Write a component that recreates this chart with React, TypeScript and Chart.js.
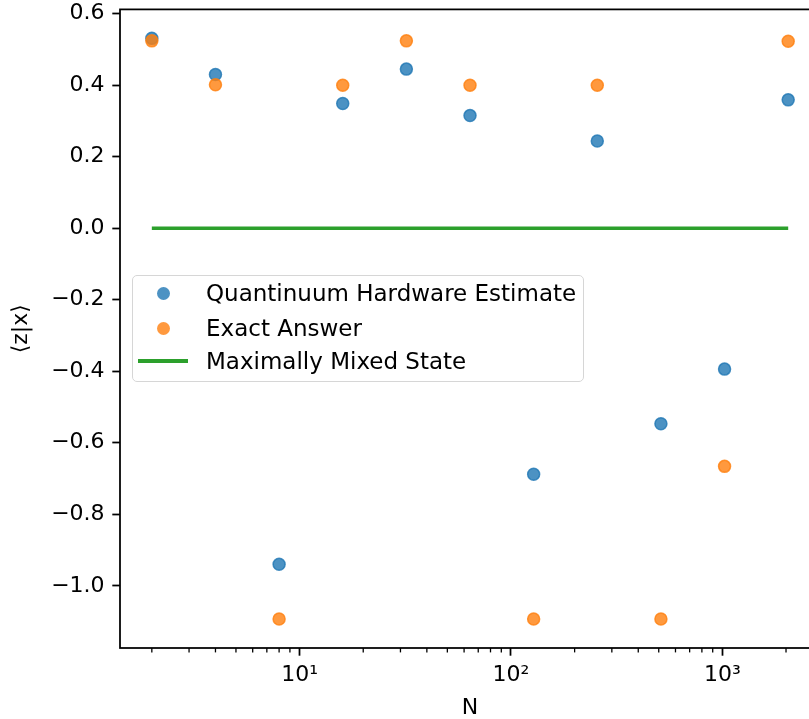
import React, { useEffect, useRef } from 'react';
import { Chart, registerables } from 'chart.js';

Chart.register(...registerables);

// ---- data ----
const N = [2, 4, 8, 16, 32, 64, 128, 256, 512, 1024, 2048];
const hardwareEstimate = [0.531, 0.430, -0.940, 0.349, 0.445, 0.315, -0.688, 0.244, -0.547, -0.394, 0.359];
const exactAnswer = [0.524, 0.401, -1.093, 0.400, 0.524, 0.400, -1.093, 0.400, -1.093, -0.666, 0.523];
const mixedN = [2, 2048];
const mixedValue = [0, 0];

const seriesLabels = ['Quantinuum Hardware Estimate', 'Exact Answer', 'Maximally Mixed State'];

const yTicks = [-1.0, -0.8, -0.6, -0.4, -0.2, 0.0, 0.2, 0.4, 0.6];
const xMajorTicks = [10, 100, 1000];
const xMajorLabels = ['10\u00B9', '10\u00B2', '10\u00B3'];
const xMinorTicks = [2, 3, 4, 5, 6, 7, 8, 9, 20, 30, 40, 50, 60, 70, 80, 90, 200, 300, 400, 500, 600, 700, 800, 900, 2000];

const xRange = [1.414, 2896];
const yRange = [-1.174, 0.612];

// ---- style ----
const BLUE = 'rgba(31,119,180,0.8)';
const ORANGE = 'rgba(255,127,14,0.8)';
const GREEN = '#2ca02c';
const FONT = '"DejaVu Sans", sans-serif';
const FS = 22;
const LEGEND_FS = 23;

const fmtY = (v: number) => (Math.abs(v) < 1e-9 ? '0.0' : v.toFixed(1).replace('-', '\u2212'));

const framePlugin = {
  id: 'frame',
  afterDatasetsDraw(chart: any) {
    const { ctx, chartArea } = chart;
    const xs = chart.scales.x;
    ctx.save();
    ctx.strokeStyle = '#000';
    ctx.lineWidth = 1.3;
    xMinorTicks.forEach((v) => {
      const px = xs.getPixelForValue(v);
      ctx.beginPath();
      ctx.moveTo(px, chartArea.bottom);
      ctx.lineTo(px, chartArea.bottom + 4.4);
      ctx.stroke();
    });
    ctx.lineWidth = 1.76;
    ctx.strokeRect(chartArea.left, chartArea.top, chartArea.right - chartArea.left, chartArea.bottom - chartArea.top);
    ctx.restore();
  },
};

const legendItems = [
  { label: seriesLabels[0], kind: 'dot', color: BLUE },
  { label: seriesLabels[1], kind: 'dot', color: ORANGE },
  { label: seriesLabels[2], kind: 'line', color: GREEN },
];

export default function App() {
  const ref = useRef<HTMLCanvasElement | null>(null);

  useEffect(() => {
    const canvas = ref.current;
    if (!canvas) return;
    Chart.defaults.font.family = FONT;
    Chart.defaults.font.size = FS;
    Chart.defaults.color = '#000';
    const chart = new Chart(canvas, {
      type: 'scatter',
      data: {
        datasets: [
          {
            label: seriesLabels[0],
            data: N.map((n, i) => ({ x: n, y: hardwareEstimate[i] })),
            backgroundColor: BLUE,
            borderColor: BLUE,
            borderWidth: 1.5,
            pointRadius: 6,
            pointHoverRadius: 6,
            showLine: false,
            order: 3,
          },
          {
            label: seriesLabels[1],
            data: N.map((n, i) => ({ x: n, y: exactAnswer[i] })),
            backgroundColor: ORANGE,
            borderColor: ORANGE,
            borderWidth: 1.5,
            pointRadius: 6,
            pointHoverRadius: 6,
            showLine: false,
            order: 2,
          },
          {
            label: seriesLabels[2],
            data: mixedN.map((n, i) => ({ x: n, y: mixedValue[i] })),
            borderColor: GREEN,
            backgroundColor: GREEN,
            borderWidth: 3.3,
            pointRadius: 0,
            showLine: true,
            fill: false,
            order: 1,
          },
        ],
      },
      options: {
        responsive: false,
        animation: false,
        devicePixelRatio: 1,
        layout: { padding: { top: 9.4, right: 10, left: 0, bottom: 0 } },
        plugins: { legend: { display: false }, tooltip: { enabled: false } },
        scales: {
          x: {
            type: 'logarithmic',
            min: xRange[0],
            max: xRange[1],
            afterBuildTicks: (s: any) => {
              s.ticks = xMajorTicks.map((v) => ({ value: v, major: true }));
            },
            ticks: {
              autoSkip: false,
              maxRotation: 0,
              padding: 6,
              color: '#000',
              font: { size: FS, family: FONT },
              callback: (v: any) => {
                const i = xMajorTicks.indexOf(Number(v));
                return i >= 0 ? xMajorLabels[i] : '';
              },
            },
            grid: { drawOnChartArea: false, tickLength: 7.7, tickColor: '#000', tickWidth: 1.76 },
            border: { display: false },
            title: { display: true, text: 'N', color: '#000', font: { size: FS, family: FONT, lineHeight: 1 }, padding: 0 },
            afterFit: (s: any) => {
              s.height = 71;
              s.paddingLeft = 0;
              s.paddingRight = 0;
            },
          },
          y: {
            min: yRange[0],
            max: yRange[1],
            afterBuildTicks: (s: any) => {
              s.ticks = yTicks.map((v) => ({ value: v }));
            },
            ticks: {
              padding: 7.7,
              color: '#000',
              font: { size: FS, family: FONT },
              callback: (v: any) => fmtY(Number(v)),
            },
            grid: { drawOnChartArea: false, tickLength: 7.7, tickColor: '#000', tickWidth: 1.76 },
            border: { display: false },
            title: {
              display: true,
              text: '\u27E8z|x\u27E9',
              color: '#000',
              font: { size: FS, family: FONT, lineHeight: 1.2 },
              padding: { top: 8, bottom: 0 },
            },
            afterFit: (s: any) => {
              s.width = 120;
              s.paddingTop = 0;
              s.paddingBottom = 0;
            },
          },
        },
      } as any,
      plugins: [framePlugin],
    });
    return () => chart.destroy();
  }, []);

  const rowCenters = [293, 328, 361];

  return (
    <div
      style={{
        position: 'fixed',
        left: 0,
        top: 0,
        width: 809,
        height: 719,
        overflow: 'hidden',
        background: '#fff',
      }}
    >
      <canvas ref={ref} width={830} height={719} style={{ display: 'block', width: 830, height: 719 }} />
      <div
        style={{
          position: 'absolute',
          left: 132,
          top: 275,
          width: 452,
          height: 107,
          boxSizing: 'border-box',
          border: '1.5px solid #d6d6d6',
          borderRadius: 5,
          background: 'rgba(255,255,255,0.8)',
        }}
      />
      {legendItems.map((it, i) => (
        <div
          key={it.label}
          style={{
            position: 'absolute',
            left: 0,
            top: rowCenters[i] - 17,
            height: 34,
            width: 600,
            fontFamily: FONT,
            fontSize: LEGEND_FS,
            lineHeight: '34px',
            color: '#000',
            whiteSpace: 'nowrap',
          }}
        >
          {it.kind === 'dot' ? (
            <span
              style={{
                position: 'absolute',
                left: 163 - 6.5,
                top: 17 - 6.5,
                width: 13,
                height: 13,
                borderRadius: '50%',
                background: it.color,
              }}
            />
          ) : (
            <span
              style={{
                position: 'absolute',
                left: 138,
                top: 17 - 1.6,
                width: 50,
                height: 3.3,
                background: it.color,
              }}
            />
          )}
          <span style={{ position: 'absolute', left: 206, top: 0 }}>{it.label}</span>
        </div>
      ))}
    </div>
  );
}
